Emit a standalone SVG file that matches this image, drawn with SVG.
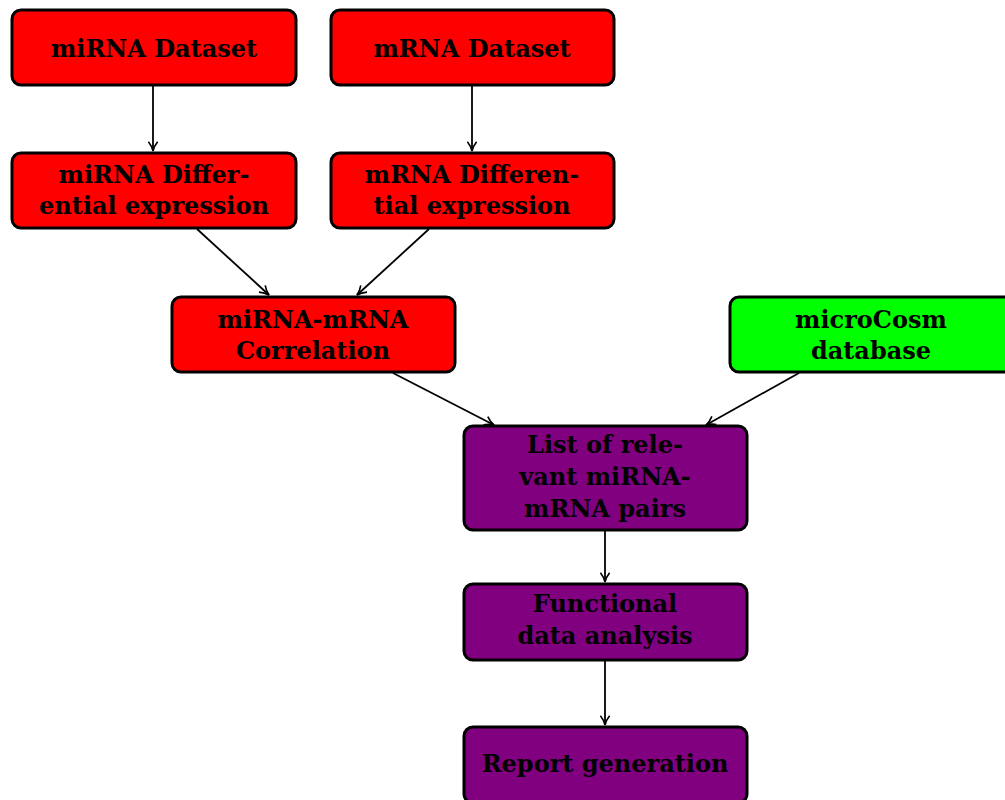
<svg xmlns="http://www.w3.org/2000/svg" width="1005" height="800" viewBox="0 0 1005 800">
<defs>
<style>
.box{stroke:#000;stroke-width:3}
.red{fill:#ff0000}
.green{fill:#00ff00}
.purple{fill:#800080}
text{font-family:"DejaVu Serif","Liberation Serif",serif;font-weight:bold;font-size:24px;fill:#000;text-anchor:middle}
.edge{stroke:#000;stroke-width:1.8;fill:none;marker-end:url(#arr)}
</style>
<marker id="arr" viewBox="0 0 10 10" refX="9.5" refY="5" markerWidth="11" markerHeight="11" markerUnits="userSpaceOnUse" orient="auto">
<path d="M1,0.8 Q5,4 9.5,5 Q5,6 1,9.2" fill="none" stroke="#000" stroke-width="1.5"/>
</marker>
</defs>
<rect width="1005" height="800" fill="#fff"/>
<g id="connectors">
<line class="edge" x1="153" y1="86" x2="153" y2="151"/>
<line class="edge" x1="472" y1="86" x2="472" y2="151"/>
<line class="edge" x1="197" y1="229" x2="269" y2="295"/>
<line class="edge" x1="429" y1="229" x2="357" y2="295"/>
<line class="edge" x1="393" y1="373" x2="494" y2="425"/>
<line class="edge" x1="799" y1="373" x2="706" y2="425"/>
<line class="edge" x1="605" y1="531" x2="605" y2="582"/>
<line class="edge" x1="605" y1="661" x2="605" y2="725"/>
</g>
<g id="mirna-dataset">
<rect class="box red" x="12" y="10" width="284" height="75" rx="9"/>
<text x="154" y="57">miRNA Dataset</text>
</g>
<g id="mrna-dataset">
<rect class="box red" x="331" y="10" width="283" height="75" rx="9"/>
<text x="472" y="57">mRNA Dataset</text>
</g>
<g id="mirna-diff">
<rect class="box red" x="12" y="153" width="284" height="75" rx="9"/>
<text x="154" y="183">miRNA Differ-</text>
<text x="154" y="214">ential expression</text>
</g>
<g id="mrna-diff">
<rect class="box red" x="331" y="153" width="283" height="75" rx="9"/>
<text x="472" y="183">mRNA Differen-</text>
<text x="472" y="214">tial expression</text>
</g>
<g id="correlation">
<rect class="box red" x="172" y="297" width="283" height="75" rx="9"/>
<text x="313" y="328">miRNA-mRNA</text>
<text x="313" y="359">Correlation</text>
</g>
<g id="microcosm">
<rect class="box green" x="730" y="297" width="284" height="75" rx="9"/>
<text x="871" y="328">microCosm</text>
<text x="871" y="359">database</text>
</g>
<g id="list-pairs">
<rect class="box purple" x="464" y="426" width="283" height="104" rx="9"/>
<text x="605" y="453">List of rele-</text>
<text x="605" y="485">vant miRNA-</text>
<text x="605" y="517">mRNA pairs</text>
</g>
<g id="functional">
<rect class="box purple" x="464" y="584" width="283" height="76" rx="9"/>
<text x="605" y="612">Functional</text>
<text x="605" y="644">data analysis</text>
</g>
<g id="report">
<rect class="box purple" x="464" y="727" width="283" height="76" rx="9"/>
<text x="605" y="772">Report generation</text>
</g>
</svg>
